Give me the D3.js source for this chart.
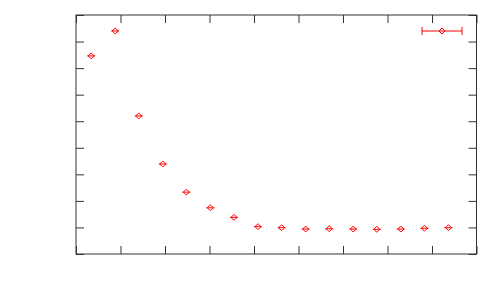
<!DOCTYPE html>
<html>
  <head>
    <meta charset="utf-8">
    <script src="https://d3js.org/d3.v7.min.js"></script>
    <style>
      body { margin: 0; background: #fff; }
      .tick line { stroke: #333; }
      .domain { display: none; }
    </style>
  </head>
  <body>
    <svg width="500" height="300"></svg>
    <script>
      // data
      const xs   = [0.34, 0.88, 1.41, 1.95, 2.48, 3.02, 3.55, 4.09, 4.62, 5.16, 5.69, 6.23, 6.76, 7.30, 7.83, 8.37];
      const ys   = [7.46, 8.40, 5.20, 3.39, 2.33, 1.74, 1.38, 1.03, 0.99, 0.94, 0.95, 0.94, 0.93, 0.94, 0.97, 0.99];
      const xerr = [0.09, 0.09, 0.09, 0.09, 0.09, 0.09, 0.09, 0.09, 0.09, 0.09, 0.09, 0.09, 0.09, 0.09, 0.09, 0.09];
      const xTicks = d3.range(0, 10);
      const yTicks = d3.range(0, 10);

      const margin = { left: 76, right: 23.5, top: 15, bottom: 46 };
      const svg = d3.select('svg');
      const width = +svg.attr('width');
      const height = +svg.attr('height');

      const xScale = d3.scaleLinear().domain([0, 9]).range([margin.left, width - margin.right]);
      const yScale = d3.scaleLinear().domain([0, 9]).range([height - margin.bottom, margin.top]);

      const tick = 8;
      // ticks point inward on all four sides, no labels
      svg.append('g').attr('transform', `translate(0,${yScale(0)})`)
        .call(d3.axisBottom(xScale).tickValues(xTicks).tickSizeInner(-tick).tickSizeOuter(0).tickFormat(''));
      svg.append('g').attr('transform', `translate(0,${yScale(9)})`)
        .call(d3.axisTop(xScale).tickValues(xTicks).tickSizeInner(-tick).tickSizeOuter(0).tickFormat(''));
      svg.append('g').attr('transform', `translate(${xScale(0)},0)`)
        .call(d3.axisLeft(yScale).tickValues(yTicks).tickSizeInner(-tick).tickSizeOuter(0).tickFormat(''));
      svg.append('g').attr('transform', `translate(${xScale(9)},0)`)
        .call(d3.axisRight(yScale).tickValues(yTicks).tickSizeInner(-tick).tickSizeOuter(0).tickFormat(''));

      // frame
      svg.append('rect')
        .attr('x', xScale(0)).attr('y', yScale(9))
        .attr('width', xScale(9) - xScale(0)).attr('height', yScale(0) - yScale(9))
        .attr('fill', 'none').attr('stroke', '#333').attr('stroke-width', 1);

      const data = xs.map((x, i) => ({ x, y: ys[i], e: xerr[i] }));
      const diamond = (cx, cy, r) => `M${cx},${cy - r}L${cx + r},${cy}L${cx},${cy + r}L${cx - r},${cy}Z`;

      const pts = svg.append('g');
      pts.selectAll('line.err').data(data).enter().append('line')
        .attr('class', 'err')
        .attr('x1', d => xScale(d.x - d.e)).attr('x2', d => xScale(d.x + d.e))
        .attr('y1', d => yScale(d.y)).attr('y2', d => yScale(d.y))
        .attr('stroke', 'red').attr('stroke-width', 1);
      pts.selectAll('path').data(data).enter().append('path')
        .attr('d', d => diamond(xScale(d.x), yScale(d.y), 3))
        .attr('fill', 'none').attr('stroke', 'red').attr('stroke-width', 1);

      // legend sample
      const lg = svg.append('g').attr('transform', 'translate(442,31)');
      lg.append('line').attr('x1', -20).attr('x2', 20).attr('stroke', 'red');
      lg.append('line').attr('x1', -20).attr('x2', -20).attr('y1', -4).attr('y2', 4).attr('stroke', 'red');
      lg.append('line').attr('x1', 20).attr('x2', 20).attr('y1', -4).attr('y2', 4).attr('stroke', 'red');
      lg.append('path').attr('d', diamond(0, 0, 3)).attr('fill', 'none').attr('stroke', 'red');
    </script>
  </body>
</html>
